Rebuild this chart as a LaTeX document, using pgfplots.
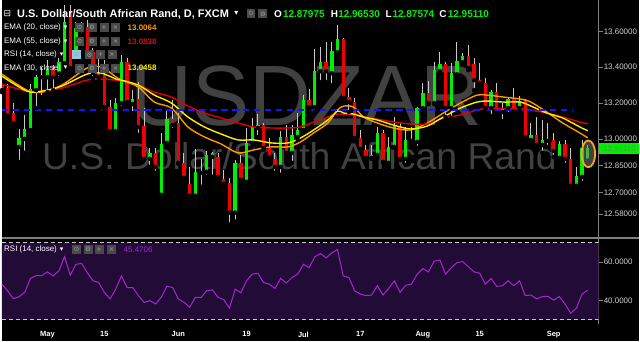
\documentclass[border=0pt]{standalone}
\usepackage{fontspec}
\setmainfont{Liberation Sans}
\newfontfamily\sym{DejaVu Sans}
\usepackage{pgfplots}
\usepackage{pgfplotstable}
\pgfplotsset{compat=1.18}
\definecolor{upc}{HTML}{00EE00}
\definecolor{dnc}{HTML}{F20000}
\definecolor{wickc}{HTML}{C8C8C8}
\definecolor{emaO}{HTML}{FF9800}
\definecolor{emaY}{HTML}{FFEE00}
\definecolor{emaR}{HTML}{E00000}
\definecolor{emaRtxt}{HTML}{C81414}
\definecolor{bluel}{HTML}{1414FF}
\definecolor{band}{HTML}{230B38}
\definecolor{rsic}{HTML}{A12AC9}
\definecolor{axc}{HTML}{808080}
\definecolor{tickt}{HTML}{D0D0D0}
\definecolor{wm}{HTML}{414141}
\definecolor{iconbg}{HTML}{4A4A4A}
\definecolor{icong}{HTML}{A0A0A0}
\definecolor{iconblue}{HTML}{8EC8E8}
\definecolor{ohlcg}{HTML}{00F000}
\definecolor{hl}{HTML}{F5A623}
\definecolor{lastt}{HTML}{4E9A4E}

% up (green) candles
\pgfplotstableread{
k O H L C
3 12.9556 13.0556 12.8722 13.0056
4 13.0 13.1333 12.9222 13.0556
5 13.05 13.3056 13.0278 13.2778
6 13.2722 13.3556 13.1722 13.3444
7 13.3444 13.4 13.2333 13.3556
8 13.3444 13.4389 13.2611 13.3833
10 13.3667 13.45 13.3389 13.4278
11 13.4222 13.7444 13.3944 13.65
13 13.4667 13.65 13.4389 13.6167
20 13.0444 13.2278 13.0278 13.2
21 13.2 13.4667 13.1722 13.4278
23 13.1944 13.2722 13.1444 13.2222
26 12.8889 12.95 12.8444 12.9222
28 12.6889 13.0333 12.6722 12.9722
29 12.9778 13.1667 12.9667 13.1111
34 12.6833 12.9444 12.6611 12.8167
35 12.8111 12.8889 12.7333 12.8222
36 12.8167 12.9333 12.7889 12.9111
37 12.9 12.9278 12.7889 12.9222
41 12.5889 12.8833 12.5389 12.8667
43 12.7611 13.0611 12.75 12.9778
44 12.9778 13.1167 12.9556 13.0667
45 13.0611 13.1389 13.0111 13.0778
49 12.8444 13.0444 12.8 13.0111
51 12.9222 13.0778 12.8667 13.0222
52 13.0111 13.1444 12.9944 13.05
53 13.05 13.2444 13.0389 13.2167
55 13.1778 13.5 13.15 13.3778
56 13.3778 13.5111 13.3167 13.4278
58 13.3667 13.5389 13.3 13.4889
59 13.4833 13.6333 13.4778 13.5556
65 12.8944 12.9667 12.8889 12.9111
66 12.9111 13.0667 12.8944 13.0333
68 12.8667 13.0111 12.8611 12.9556
69 12.9556 13.1222 12.95 13.0722
71 12.8889 13.0667 12.8556 12.9944
73 12.9833 13.1778 12.95 13.1722
74 13.1722 13.3111 13.1667 13.2556
76 13.2 13.4278 13.1944 13.3833
77 13.3778 13.4833 13.3722 13.4167
79 13.1722 13.4222 13.1167 13.3667
80 13.3611 13.5389 13.3556 13.4333
81 13.4278 13.4778 13.4222 13.4611
86 13.1722 13.2722 13.1278 13.2611
88 13.15 13.2 13.1 13.1722
89 13.1722 13.2333 13.1389 13.2222
91 13.1722 13.2389 13.15 13.2111
93 12.9944 13.0889 12.9889 13.0222
95 12.9667 13.1056 12.9222 12.9944
96 12.9889 13.0889 12.9556 13.0
98 12.8944 12.9889 12.8889 12.9722
101 12.7389 12.8444 12.7333 12.7944
102 12.7889 12.9944 12.7556 12.95
103 12.87975 12.96530 12.87574 12.95110
}\upT

% down (red) candles
\pgfplotstableread{
k O H L C
0 13.3 13.3167 13.2611 13.2722
1 13.2833 13.3056 13.1167 13.1333
2 13.1444 13.2 13.0667 13.0889
9 13.3833 13.4111 13.2722 13.3444
12 13.7056 13.7444 13.3833 13.3944
14 13.6167 13.65 13.5778 13.6056
15 13.6222 13.6611 13.45 13.4778
16 13.4833 13.5056 13.3389 13.3667
17 13.3667 13.4556 13.3278 13.3444
18 13.3556 13.4389 13.1611 13.1778
19 13.1778 13.2167 13.0333 13.0444
22 13.4278 13.45 13.1889 13.2056
24 13.2222 13.3167 13.0222 13.0667
25 13.0722 13.1722 12.8833 12.8889
27 12.9222 12.95 12.8111 12.8444
30 13.1111 13.2167 13.05 13.0778
31 13.0889 13.1444 12.8611 12.8667
32 12.8667 12.9222 12.7611 12.7833
33 12.75 12.8444 12.6778 12.6833
38 12.9 12.9222 12.7833 12.7889
39 12.7778 12.8278 12.7444 12.75
40 12.7556 12.7833 12.5222 12.5889
42 12.8667 12.9111 12.7611 12.7722
46 13.0778 13.0889 12.9389 12.95
47 12.95 13.0056 12.8944 12.9
48 12.8889 12.9222 12.8111 12.8444
50 13.0111 13.0778 12.9167 12.9222
54 13.2167 13.2778 13.1611 13.1778
57 13.4278 13.5389 13.3167 13.3778
60 13.5556 13.5611 13.2222 13.2278
61 13.2333 13.2833 13.15 13.2056
62 13.2056 13.2278 12.9944 13.0056
63 13.0056 13.05 12.9389 12.9444
64 12.9389 12.9667 12.8833 12.8944
67 13.0333 13.05 12.8667 12.8722
70 13.0722 13.0889 12.8833 12.8889
72 12.9944 13.0667 12.9778 12.9889
75 13.2556 13.3222 13.1944 13.2
78 13.4167 13.4278 13.1222 13.1722
82 13.4611 13.5222 13.3833 13.3944
83 13.4167 13.45 13.2722 13.3278
84 13.3278 13.4222 13.3 13.3111
85 13.3111 13.3389 13.1667 13.1722
87 13.2611 13.3111 13.1389 13.1444
90 13.2222 13.2833 13.15 13.1556
92 13.2167 13.2222 13.0056 13.0111
94 13.0222 13.1222 12.95 12.9667
97 12.9944 13.0333 12.9 12.9333
99 12.9722 12.9944 12.8556 12.8889
100 12.8889 12.95 12.7333 12.7389
}\dnT

\pgfplotstableread{
k p
0 13.3611
4.38 13.2722
7.0 13.2611
10.5 13.3
14.9 13.3944
17.5 13.4
20.1 13.3444
21.0 13.3278
24.0 13.2889
26.8 13.2056
29.8 13.1722
32.7 13.0667
35.6 13.0111
38.5 12.9722
41.5 12.9222
44.3 12.9389
47.3 12.9556
50.3 12.9556
52.5 12.9833
54.8 13.0333
57.3 13.0889
59.0 13.1611
60.1 13.1833
61.8 13.1778
63.6 13.1222
66.0 13.0889
68.8 13.0611
71.8 13.05
74.8 13.0889
77.6 13.1444
80.6 13.2
83.5 13.2444
85.3 13.2444
88.3 13.2333
91.2 13.2222
93.0 13.2056
95.8 13.15
98.6 13.0889
101.6 13.0333
103 13.0064
}\emaTwenty

\pgfplotstableread{
k p
0 13.35
4.38 13.2667
7.0 13.2667
10.5 13.2944
14.9 13.3611
17.5 13.3667
20.1 13.3333
21.0 13.3278
24.0 13.3
26.8 13.2444
29.8 13.2
32.7 13.1222
35.6 13.0667
38.5 13.0278
41.5 12.9944
44.3 12.9944
47.3 12.9778
50.3 12.9778
52.5 13.0056
54.8 13.05
57.3 13.1056
59.0 13.1556
60.1 13.1444
61.8 13.1389
63.6 13.1222
66.0 13.1056
68.8 13.0778
71.8 13.0556
74.8 13.0722
77.6 13.1222
80.6 13.1722
83.5 13.2056
85.3 13.2111
88.3 13.2056
91.2 13.2056
93.0 13.1833
95.8 13.1444
98.6 13.1167
101.6 13.0667
103 13.0458
}\emaThirty

\pgfplotstableread{
k p
0 13.3056
4.38 13.2667
7.0 13.2667
10.5 13.2833
14.9 13.3278
17.5 13.3333
20.1 13.3278
21.0 13.3278
24.0 13.3
26.8 13.2611
29.8 13.2333
32.7 13.1833
35.6 13.1444
38.5 13.1167
41.5 13.0889
44.3 13.0667
47.3 13.0611
50.3 13.0611
52.5 13.0667
54.8 13.0944
57.3 13.1222
59.0 13.1389
61.8 13.1333
63.6 13.1222
66.0 13.1111
68.8 13.0944
71.8 13.0833
74.8 13.0833
77.6 13.1167
80.6 13.1333
83.5 13.1611
85.3 13.17
88.3 13.17
91.2 13.17
93.0 13.1611
95.8 13.1444
98.6 13.1222
101.6 13.0944
103 13.0838
}\emaFiftyFive

\pgfplotstableread{
k r
0 48.5
1 45.0
2 41.0
3 42.0
4 44.3
5 51.5
6 53.0
7 53.0
8 54.9
9 52.8
10 55.4
11 62.7
12 53.2
13 58.8
14 59.3
15 54.5
16 50.3
17 49.4
18 44.3
19 40.9
20 46.0
21 52.8
22 46.8
23 46.8
24 42.6
25 39.1
26 40.0
27 38.3
28 41.7
29 47.4
30 46.8
31 40.9
32 39.1
33 36.6
34 41.7
35 41.7
36 45.1
37 45.6
38 41.7
39 40.5
40 36.1
41 46.0
42 44.0
43 50.3
44 53.7
45 54.2
46 49.4
47 48.5
48 46.3
49 51.5
50 49.1
51 52.0
52 53.7
53 58.8
54 57.1
55 62.7
56 64.4
57 62.2
58 64.8
59 66.5
60 52.8
61 52.0
62 45.1
63 43.4
64 42.6
65 42.9
66 47.7
67 42.9
68 46.3
69 50.3
70 44.3
71 48.0
72 48.5
73 53.7
74 56.6
75 54.9
76 60.5
77 61.0
78 53.7
79 57.1
80 59.7
81 60.2
82 57.6
83 54.9
84 54.2
85 48.5
86 51.5
87 47.4
88 47.7
89 50.3
90 47.7
91 50.3
92 42.6
93 42.9
94 40.9
95 42.1
96 42.2
97 40.3
98 42.1
99 38.3
100 33.5
101 36.1
102 43.4
103 45.4706
}\rsiT

\newcommand{\icon}[3]{\node[fill=#3, minimum width=9pt, minimum height=9pt, inner sep=0pt, text=icong, font=\sym\fontsize{6.5}{6.5}\selectfont] at (#1) {#2};}
\newcommand{\lab}{\fontsize{8}{9}\selectfont}

\begin{document}
\begin{tikzpicture}
\begin{scope}[x=1pt,y=1pt]
\useasboundingbox (0,0) rectangle (640,342);
\fill[black] (0,0) rectangle (640,342);
% watermark
\node[anchor=base, text=wm, font=\fontsize{86}{86}\selectfont, inner sep=0] at (306,216) {USDZAR};
\node[anchor=base west, text=wm, font=\fontsize{37.5}{37.5}\selectfont, inner sep=0] at (40,172) {U.S. Dollar/South African Rand};
\end{scope}

% price pane
\begin{axis}[
  at={(0pt,104pt)}, anchor=south west, width=599pt, height=238pt, scale only axis,
  xmin=0, xmax=104.9, ymin=12.45, ymax=13.7722,
  axis x line=none, axis y line*=right,
  axis line style={draw=axc, line width=1pt},
  ytick={12.58,12.70,12.85,13.00,13.20,13.40,13.60},
  yticklabels={12.58000,12.70000,12.85000,13.00000,13.20000,13.40000,13.60000},
  tick align=outside, major tick length=4pt,
  ytick style={draw=axc, line width=0.8pt},
  yticklabel style={font=\lab, text=tickt, inner sep=1pt},
  clip=true,
]
% wicks
\addplot[only marks, mark=none, forget plot, error bars/.cd, y dir=plus, y explicit, error mark=none,
  error bar style={line width=1pt, draw=wickc}]
  table[x=k, y=L, y error plus expr=\thisrow{H}-\thisrow{L}] {\upT};
\addplot[only marks, mark=none, forget plot, error bars/.cd, y dir=plus, y explicit, error mark=none,
  error bar style={line width=1pt, draw=wickc}]
  table[x=k, y=L, y error plus expr=\thisrow{H}-\thisrow{L}] {\dnT};
% bodies
\addplot[only marks, mark=none, forget plot, error bars/.cd, y dir=plus, y explicit, error mark=none,
  error bar style={line width=3.4pt, draw=upc}]
  table[x=k, y=O, y error plus expr=\thisrow{C}-\thisrow{O}] {\upT};
\addplot[only marks, mark=none, forget plot, error bars/.cd, y dir=plus, y explicit, error mark=none,
  error bar style={line width=3.4pt, draw=dnc}]
  table[x=k, y=C, y error plus expr=\thisrow{O}-\thisrow{C}] {\dnT};
% EMAs
\addplot[emaO, line width=1.4pt, smooth, tension=0.5] table[x=k, y=p] {\emaTwenty};
\addplot[emaR, line width=1.4pt, smooth, tension=0.5] table[x=k, y=p] {\emaFiftyFive};
\addplot[emaY, line width=1.4pt, smooth, tension=0.5] table[x=k, y=p] {\emaThirty};
% horizontal level
\addplot[bluel, line width=1.6pt, dash pattern=on 6.5pt off 4.5pt] coordinates {(0,13.1611) (100.2,13.1611)};
% highlight on last bar
\addplot[only marks, mark=*, mark size=6.8pt, mark options={yscale=1.98, fill=gray, fill opacity=0.5, draw=hl, line width=1.8pt}] coordinates {(103.1,12.9167)};
\end{axis}

% RSI pane
\begin{axis}[
  at={(0pt,17pt)}, anchor=south west, width=599pt, height=87pt, scale only axis,
  xmin=0, xmax=104.9, ymin=27.8, ymax=72.7,
  axis x line*=bottom, axis y line*=right,
  x axis line style={draw=none}, y axis line style={draw=axc, line width=1pt},
  xtick={8,18,31,43,53,63,74,84,97},
  xticklabels={May,15,Jun,19,Jul,17,Aug,15,Sep},
  xticklabel style={font=\bfseries\fontsize{7.5}{9}\selectfont, text=white},
  ytick={40,60}, yticklabels={40.0000,60.0000},
  tick align=outside, major tick length=4pt,
  xtick style={draw=none}, ytick style={draw=axc, line width=0.8pt},
  yticklabel style={font=\lab, text=tickt, inner sep=1pt},
  clip=true,
]
\addplot[draw=none, fill=band] coordinates {(0,30) (104.9,30) (104.9,70) (0,70) (0,30)};
\addplot[wickc, line width=0.9pt, dash pattern=on 4pt off 3pt] coordinates {(0,70) (104.9,70)};
\addplot[wickc, line width=0.9pt, dash pattern=on 4pt off 3pt] coordinates {(0,30) (104.9,30)};
\addplot[rsic, line width=1pt] table[x=k, y=r] {\rsiT};
\end{axis}

\begin{scope}[x=1pt,y=1pt]
% pane separator
\draw[axc, line width=1.2pt] (0,103.5) -- (640,103.5);

% last price label
\fill[upc] (599.5,188) rectangle (640,199);
\node[text=lastt, font=\lab, inner sep=0] at (620,193.5) {12.95110};

% title line
\node[anchor=west, inner sep=0, text=white, font=\sym\fontsize{9}{9}\selectfont] at (1.5,328.5) {⊟};
\node[anchor=west, inner sep=0, text=white, font=\bfseries\fontsize{11}{13}\selectfont] at (15,328.5) {U.S. Dollar/South African Rand, D, FXCM};
\node[anchor=west, inner sep=0, text=white, font=\sym\fontsize{8}{8}\selectfont] at (233,328.5) {▾};
\icon{250,328.5}{⊙}{iconbg}
\icon{262,328.5}{⚙}{iconbg}
\node[anchor=west, inner sep=0, text=white, font=\bfseries\fontsize{10}{12}\selectfont] at (273,328.5) {O};
\node[anchor=west, inner sep=0, text=ohlcg, font=\bfseries\fontsize{10}{12}\selectfont] at (282,328.5) {12.87975};
\node[anchor=west, inner sep=0, text=white, font=\bfseries\fontsize{10}{12}\selectfont] at (330,328.5) {H};
\node[anchor=west, inner sep=0, text=ohlcg, font=\bfseries\fontsize{10}{12}\selectfont] at (337.5,328.5) {12.96530};
\node[anchor=west, inner sep=0, text=white, font=\bfseries\fontsize{10}{12}\selectfont] at (385,328.5) {L};
\node[anchor=west, inner sep=0, text=ohlcg, font=\bfseries\fontsize{10}{12}\selectfont] at (392,328.5) {12.87574};
\node[anchor=west, inner sep=0, text=white, font=\bfseries\fontsize{10}{12}\selectfont] at (439,328.5) {C};
\node[anchor=west, inner sep=0, text=ohlcg, font=\bfseries\fontsize{10}{12}\selectfont] at (447.5,328.5) {12.95110};

% indicator legend rows
\node[anchor=west, inner sep=0, text=white, font=\lab] at (2,315) {EMA (20, close)};
\node[anchor=west, inner sep=0, text=white, font=\sym\fontsize{7}{7}\selectfont] at (62,315) {▾};
\icon{78,315}{⊙}{iconbg}\icon{90.5,315}{⚙}{iconbg}\icon{102.5,315}{+}{iconbg}\icon{114,315}{×}{iconbg}
\node[anchor=west, inner sep=0, text=emaO, font=\bfseries\lab] at (126,315) {13.0064};

\node[anchor=west, inner sep=0, text=white, font=\lab] at (2,301) {EMA (55, close)};
\node[anchor=west, inner sep=0, text=white, font=\sym\fontsize{7}{7}\selectfont] at (62,301) {▾};
\icon{78,301}{⊙}{iconbg}\icon{90.5,301}{⚙}{iconbg}\icon{102.5,301}{+}{iconbg}\icon{114,301}{×}{iconbg}
\node[anchor=west, inner sep=0, text=emaRtxt, font=\bfseries\lab] at (126,301) {13.0838};

\node[anchor=west, inner sep=0, text=white, font=\lab] at (2,287.5) {RSI (14, close)};
\node[anchor=west, inner sep=0, text=white, font=\sym\fontsize{7}{7}\selectfont] at (58,287.5) {▾};
\icon{75,287.5}{⊙}{iconblue}\icon{88,287.5}{⚙}{iconbg}\icon{99,287.5}{+}{iconbg}\icon{110.5,287.5}{×}{iconbg}

\node[anchor=west, inner sep=0, text=white, font=\lab] at (2,274) {EMA (30, close)};
\node[anchor=west, inner sep=0, text=white, font=\sym\fontsize{7}{7}\selectfont] at (62,274) {▾};
\icon{78,274}{⊙}{iconbg}\icon{90.5,274}{⚙}{iconbg}\icon{102.5,274}{+}{iconbg}\icon{114,274}{×}{iconbg}
\node[anchor=west, inner sep=0, text=emaY, font=\bfseries\lab] at (126,274) {13.0458};

% RSI legend
\node[anchor=west, inner sep=0, text=white, font=\lab] at (2,92) {RSI (14, close)};
\node[anchor=west, inner sep=0, text=white, font=\sym\fontsize{7}{7}\selectfont] at (58,92) {▾};
\icon{75,92}{⊙}{iconbg}\icon{86.5,92}{⚙}{iconbg}\icon{97.5,92}{+}{iconbg}\icon{110,92}{×}{iconbg}
\node[anchor=west, inner sep=0, text=rsic, font=\lab] at (122,92) {45.4706};
\end{scope}
\end{tikzpicture}
\end{document}
